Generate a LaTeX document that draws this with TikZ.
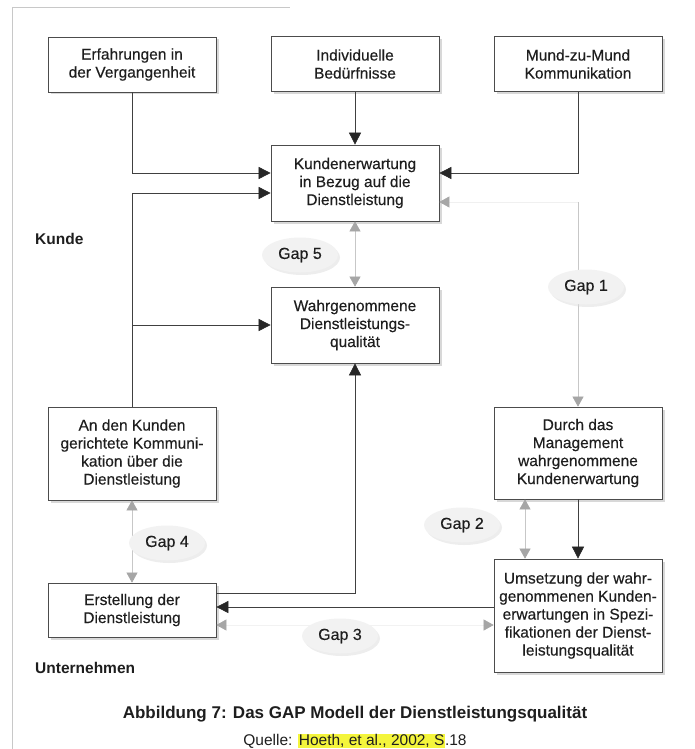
\documentclass[tikz,border=0pt]{standalone}
\usepackage{fontspec}
\setmainfont{Liberation Sans}
\newfontfamily\diagfont{Liberation Sans}[FakeBold=0.35]
\usetikzlibrary{arrows.meta,shapes.geometric,shadows,calc}

\definecolor{ink}{HTML}{1E1E1E}
\definecolor{framegray}{HTML}{C8C8C8}
\definecolor{hlyellow}{HTML}{F4F53C}

\newcommand\hlmark[1]{{\setlength{\fboxsep}{0.6pt}\colorbox{hlyellow}{#1}}}

\tikzset{
  box/.style={draw=black!70, line width=0.7pt, fill=white, align=center,
    minimum width=168pt, inner sep=2pt, text=ink,
    font=\diagfont\fontsize{15.5}{18}\selectfont,
    drop shadow={shadow xshift=2.5pt, shadow yshift=-2.5pt, fill=black!30}},
  gapell/.style={ellipse, fill=black!5, minimum width=76pt, minimum height=35pt,
    inner sep=0pt, text=ink, font=\diagfont\fontsize{16}{18}\selectfont,
    drop shadow={shadow xshift=2pt, shadow yshift=-2.5pt, fill=black!14}},
  conn/.style={draw=black!75, line width=0.6pt,
    -{Triangle[length=12pt,width=12pt,color=black!85]}},
  graytip/.style={Triangle[length=10pt,width=11pt,color=black!35]},
  gapline/.style={draw=black!22, line width=0.6pt, {Triangle[length=10pt,width=11pt,color=black!35]}-{Triangle[length=10pt,width=11pt,color=black!35]}},
  side/.style={font=\bfseries\fontsize{15.5}{17}\selectfont, text=ink, anchor=west, inner sep=0pt}
}

\begin{document}
\begin{tikzpicture}[x=1pt,y=-1pt]
\useasboundingbox (0,0) rectangle (695,749);

% page frame
\draw[framegray, line width=1pt] (12,749) -- (12,8) -- (290,8);

% influences on the customer's expectation
\node[box, minimum height=55pt] (erf)   at (132,64.5) {Erfahrungen in\\der Vergangenheit};
\node[box, minimum height=55pt] (ind)   at (355,64)   {Individuelle\\Bedürfnisse};
\node[box, minimum height=55pt] (mund)  at (578,64)   {Mund-zu-Mund\\Kommunikation};

% customer side
\node[box, minimum height=76pt] (kund)  at (355,183)  {Kundenerwartung\\in Bezug auf die\\Dienstleistung};
\node[box, minimum height=76pt] (wahr)  at (355,325)  {Wahrgenommene\\Dienstleistungs-\\qualität};

% company side
\node[box, minimum height=93pt] (an)    at (132,453.5) {An den Kunden\\gerichtete Kommuni-\\kation über die\\Dienstleistung};
\node[box, minimum height=92pt] (durch) at (578,453)   {Durch das\\Management\\wahrgenommene\\Kundenerwartung};
\node[box, minimum height=54pt] (erst)  at (132,610)   {Erstellung der\\Dienstleistung};
\node[box, minimum height=113pt] (ums)  at (578,615.5) {Umsetzung der wahr-\\genommenen Kunden-\\erwartungen in Spezi-\\fikationen der Dienst-\\leistungsqualität};

\coordinate (g3r) at (ums.west |- erst.east);
\coordinate (g1c) at ($(durch.north |- kund.east)+(0,19)$);

% gaps (drawn first so the bubbles sit on top)
\draw[gapline] (kund.south) -- (wahr.north);
\draw[draw=black!6, line width=0.6pt, {Triangle[length=10pt,width=11pt,color=black!35]}-] ($(kund.east)+(0,19)$) -- (g1c);
\draw[draw=black!22, line width=0.6pt, -{Triangle[length=10pt,width=11pt,color=black!35]}] (g1c) -- (durch.north);
\draw[gapline] (an.south) -- (erst.north);
\draw[gapline] ($(durch.south)+(-53,0)$) -- ($(ums.north)+(-53,0)$);
\draw[gapline, draw=black!5] ($(erst.east)+(0,15)$) -- ($(g3r)+(0,15)$);

% main flows
\draw[conn] (erf.south)  |- ($(kund.west)+(0,-10)$);
\draw[conn] (ind.south)  -- (kund.north);
\draw[conn] (mund.south) |- ($(kund.east)+(0,-10)$);
\draw[conn] (an.north)   |- ($(kund.west)+(0,10)$);
\draw[conn] (an.north |- wahr.west) -- (wahr.west);
\draw[conn] ($(erst.east)+(0,-17)$) -| (wahr.south);
\draw[conn] ($(g3r)+(0,-3)$) -- ($(erst.east)+(0,-3)$);
\draw[conn] (durch.south) -- (ums.north);

% gap bubbles
\node[gapell] (gap5) at (300,255) {Gap 5};
\node[gapell] (gap1) at (586,287) {Gap 1};
\node[gapell] (gap4) at (167,543) {Gap 4};
\node[gapell] (gap2) at (462,525) {Gap 2};
\node[gapell] (gap3) at (340,636) {Gap 3};

% sides
\node[side] (kunde) at (35,239) {Kunde};
\node[side] (unt)   at (35,668) {Unternehmen};

% caption
\node[font=\bfseries\fontsize{17}{20}\selectfont, text=ink] (cap) at (355,714)
  {Abbildung 7: Das GAP Modell der Dienstleistungsqualität};
\node[font=\fontsize{15.5}{18}\selectfont, text=ink] (src) at (355,741)
  {Quelle: \hlmark{Hoeth, et al., 2002, S}.18};
\end{tikzpicture}
\end{document}
